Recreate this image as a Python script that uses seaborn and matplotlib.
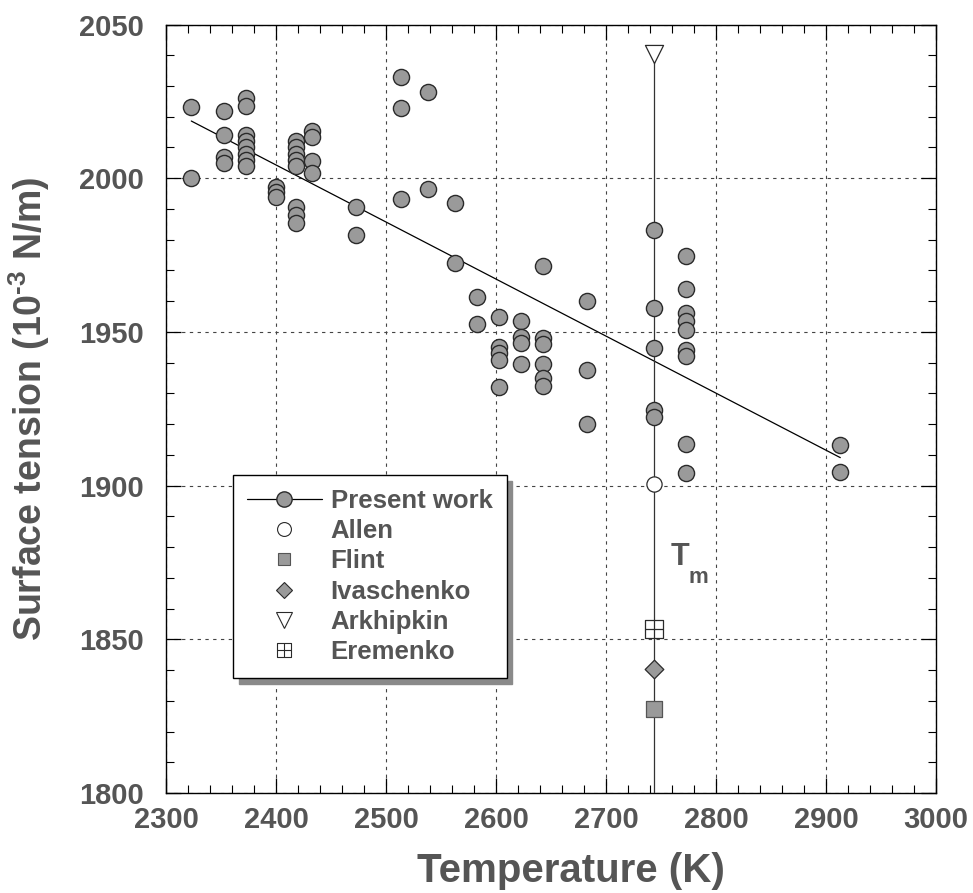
import matplotlib
matplotlib.use("Agg")
import matplotlib.pyplot as plt
from matplotlib.lines import Line2D
from matplotlib.path import Path
from matplotlib.ticker import MultipleLocator
import seaborn as sns
import pandas as pd

# ---------------- data ----------------
present_T = [2323, 2323,
             2353, 2353, 2353, 2353,
             2373, 2373, 2373, 2373, 2373, 2373, 2373, 2373,
             2400, 2400, 2400,
             2418, 2418, 2418, 2418, 2418, 2418, 2418, 2418,
             2433, 2433, 2433, 2433,
             2473, 2473,
             2514, 2514, 2514,
             2538, 2538,
             2563, 2563,
             2583, 2583,
             2603, 2603, 2603, 2603, 2603,
             2623, 2623, 2623, 2623,
             2643, 2643, 2643, 2643, 2643, 2643,
             2683, 2683, 2683,
             2744, 2744, 2744, 2744, 2744,
             2773, 2773, 2773, 2773, 2773, 2773, 2773, 2773, 2773,
             2913, 2913]
present_S = [2023, 2000,
             2022, 2014, 2007, 2005,
             2026, 2023.5, 2014, 2012, 2010, 2008, 2006, 2004,
             1997, 1995.5, 1994,
             2012, 2010, 2008, 2006, 2004, 1990.7, 1988, 1985.5,
             2015.5, 2013.5, 2005.6, 2001.6,
             1990.7, 1981.4,
             2033, 2022.7, 1993.2,
             2028, 1996.5,
             1991.9, 1972.3,
             1961.5, 1952.5,
             1954.7, 1945, 1943, 1941, 1932.2,
             1953.5, 1948.4, 1946.3, 1939.5,
             1971.3, 1948, 1946, 1939.5, 1935, 1932.4,
             1960, 1937.6, 1920,
             1983, 1957.8, 1944.7, 1924.5, 1922.3,
             1974.6, 1964, 1956.3, 1953.4, 1950.5, 1944, 1942, 1913.4, 1904,
             1913.3, 1904.4]

fit_T = [2323, 2913]
fit_S = [2018.6, 1909.1]

Tm = 2744
tm_line_S = [1800, 2040.4]

allen_S = 1900.5
flint_S = 1827.2
ivaschenko_S = 1840.3
arkhipkin_S = 2040.4
eremenko_S = 1853.3

legend_labels = ["Present work", "Allen", "Flint", "Ivaschenko", "Arkhipkin", "Eremenko"]
x_ticks = [2300, 2400, 2500, 2600, 2700, 2800, 2900, 3000]
y_ticks = [1800, 1850, 1900, 1950, 2000, 2050]

# ---------------- style ----------------
sns.set_style("white")
plt.rcParams["font.family"] = ["Liberation Sans", "DejaVu Sans"]
plt.rcParams["mathtext.fontset"] = "custom"
plt.rcParams["mathtext.rm"] = "Liberation Sans:bold"
plt.rcParams["mathtext.bf"] = "Liberation Sans:bold"
plt.rcParams["mathtext.default"] = "bf"

TXT = "#555555"
FACE = "#9a9a9a"
EDGE = "#2a2a2a"

fig = plt.figure(figsize=(9.73, 8.93), dpi=100)
ax = fig.add_axes([166/973, 1-793/893, (936-166)/973, (793-24.5)/893])

# fit line
sns.lineplot(x=fit_T, y=fit_S, ax=ax, color="black", lw=0.9, zorder=3)
# Tm vertical line
sns.lineplot(x=[Tm, Tm], y=tm_line_S, ax=ax, color="#333333", lw=0.9, zorder=3,
             orient="y")

# present work points
df = pd.DataFrame({"T": present_T, "S": present_S})
sns.scatterplot(data=df, x="T", y="S", ax=ax, s=135, color=FACE,
                edgecolor=EDGE, linewidth=1.0, zorder=4, legend=False)

# literature points
cross_sq = Path([(-1, -1), (1, -1), (1, 1), (-1, 1), (-1, -1),
                 (0, -1), (0, 1), (-1, 0), (1, 0)],
                [Path.MOVETO, Path.LINETO, Path.LINETO, Path.LINETO, Path.CLOSEPOLY,
                 Path.MOVETO, Path.LINETO, Path.MOVETO, Path.LINETO])

sns.scatterplot(x=[Tm], y=[allen_S], ax=ax, marker="o", s=120, color="white",
                edgecolor=EDGE, linewidth=0.9, zorder=5)
sns.scatterplot(x=[Tm], y=[flint_S], ax=ax, marker="s", s=130, color=FACE,
                edgecolor="#555555", linewidth=0.9, zorder=5)
sns.scatterplot(x=[Tm], y=[ivaschenko_S], ax=ax, marker="D", s=90, color=FACE,
                edgecolor=EDGE, linewidth=0.9, zorder=5)
sns.scatterplot(x=[Tm], y=[arkhipkin_S], ax=ax, marker="v", s=170, color="white",
                edgecolor=EDGE, linewidth=0.9, zorder=5)
sns.scatterplot(x=[Tm], y=[eremenko_S], ax=ax, marker=cross_sq, s=150, color="white",
                edgecolor=EDGE, linewidth=0.9, zorder=5)

# Tm label
ax.text(2767.3, 1876.7, "T", fontsize=22, fontweight="bold", color=TXT,
        ha="center", va="center", zorder=6)
ax.text(2783.6, 1870.2, "m", fontsize=16, fontweight="bold", color=TXT,
        ha="center", va="center", zorder=6)

# axes
ax.set_xlim(2300, 3000)
ax.set_ylim(1800, 2050)
ax.set_xticks(x_ticks)
ax.set_yticks(y_ticks)
ax.xaxis.set_minor_locator(MultipleLocator(20))
ax.yaxis.set_minor_locator(MultipleLocator(10))
ax.tick_params(which="both", direction="in", top=True, right=True,
               bottom=True, left=True, color="black")
ax.tick_params(which="major", length=11, width=0.9)
ax.tick_params(which="minor", length=6, width=0.8)
ax.tick_params(axis="x", which="major", labelsize=21, labelcolor=TXT, pad=9)
ax.tick_params(axis="y", which="major", labelsize=21, labelcolor=TXT, pad=16)
for lab in ax.get_xticklabels() + ax.get_yticklabels():
    lab.set_fontweight("bold")

ax.grid(True, which="major", linestyle=(0, (3, 4)), color="#444444", lw=0.8)
ax.set_axisbelow(True)
for sp in ax.spines.values():
    sp.set_color("black")
    sp.set_linewidth(1.0)

ax.set_xlabel("Temperature (K)", fontsize=29, fontweight="bold", color=TXT)
ax.set_ylabel(r"Surface tension (10$^{\text{-3}}$ N/m)", fontsize=27,
              fontweight="bold", color=TXT)
ax.xaxis.set_label_coords(0.526, -0.077)
ax.yaxis.set_label_coords(-0.148, 0.5)

# legend
handles = [
    Line2D([], [], color="black", lw=0.9, marker="o", markersize=11,
           markerfacecolor=FACE, markeredgecolor=EDGE),
    Line2D([], [], ls="none", marker="o", markersize=10,
           markerfacecolor="white", markeredgecolor=EDGE, markeredgewidth=0.8),
    Line2D([], [], ls="none", marker="s", markersize=9,
           markerfacecolor=FACE, markeredgecolor="#555555", markeredgewidth=0.8),
    Line2D([], [], ls="none", marker="D", markersize=8,
           markerfacecolor=FACE, markeredgecolor=EDGE, markeredgewidth=0.8),
    Line2D([], [], ls="none", marker="v", markersize=11,
           markerfacecolor="white", markeredgecolor=EDGE, markeredgewidth=0.8),
    Line2D([], [], ls="none", marker=cross_sq, markersize=10,
           markerfacecolor="white", markeredgecolor=EDGE, markeredgewidth=0.8),
]
leg = ax.legend(handles, legend_labels, loc="upper left",
                bbox_to_anchor=((233-166)/770, (793-475)/768.5),
                prop={"size": 18.5, "weight": "bold"}, labelcolor=TXT,
                frameon=True, fancybox=False, framealpha=1,
                edgecolor="black", handlelength=2.9, handletextpad=0.35,
                labelspacing=0.24, borderpad=0.55, borderaxespad=0,
                shadow={"ox": 4, "oy": -4, "color": "#8a8a8a", "alpha": 1})
leg.get_frame().set_linewidth(1.0)
leg.set_zorder(10)

fig.savefig("out.png", dpi=100)
